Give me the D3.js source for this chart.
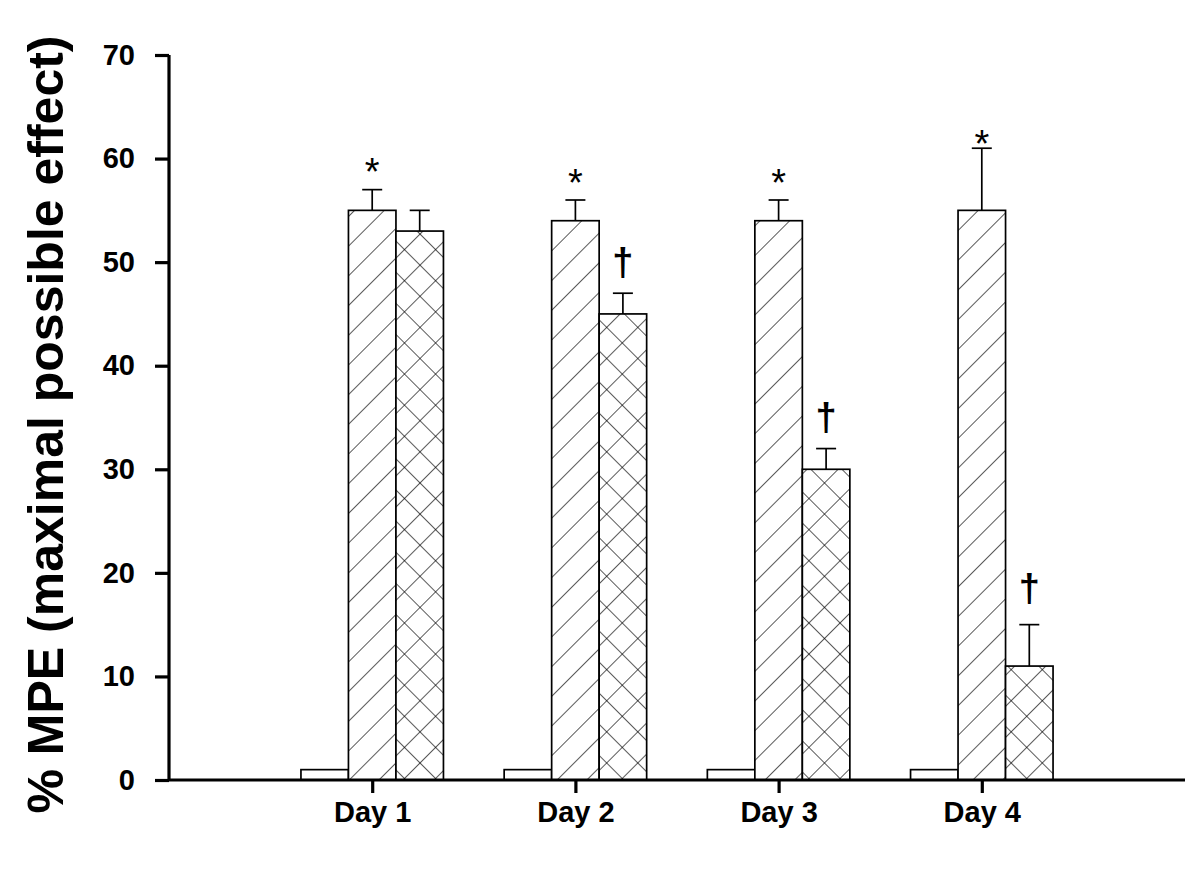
<!DOCTYPE html>
<html>
<head>
<meta charset="utf-8">
<script src="https://cdn.jsdelivr.net/npm/d3@7"></script>
<style>
  body { margin: 0; background: #fff; }
  text { font-family: "Liberation Sans", Arial, sans-serif; font-weight: bold; }
</style>
</head>
<body>
<div id="chart"></div>
<script>
var days = ["Day 1", "Day 2", "Day 3", "Day 4"];
var controlVals = [1, 1, 1, 1];
var hatchVals = [55, 54, 54, 55];
var hatchErr = [2, 2, 2, 6];
var crossVals = [53, 45, 30, 11];
var crossErr = [2, 2, 2, 4];
var starMarks = [59.6, 58.5, 58.5, 62.3];     // "*" above hatched bars
var daggerMarks = [null, 50.3, 35.3, 18.8];   // "†" above cross-hatched bars
var yTicks = [0, 10, 20, 30, 40, 50, 60, 70];

var W = 1200, H = 873;
var m = [55, 15, 93, 169]; // top right bottom left

var svg = d3.select("#chart").append("svg").attr("width", W).attr("height", H);

var defs = svg.append("defs");
var p1 = defs.append("pattern").attr("id", "hatch").attr("patternUnits", "userSpaceOnUse")
  .attr("width", 21).attr("height", 21).attr("patternTransform", "rotate(45)");
p1.append("rect").attr("width", 21).attr("height", 21).attr("fill", "#fff");
p1.append("line").attr("x1", 0).attr("y1", 0).attr("x2", 0).attr("y2", 21)
  .attr("stroke", "#000").attr("stroke-width", 1.3);
var p2 = defs.append("pattern").attr("id", "cross").attr("patternUnits", "userSpaceOnUse")
  .attr("width", 22).attr("height", 22).attr("patternTransform", "rotate(45)");
p2.append("rect").attr("width", 22).attr("height", 22).attr("fill", "#fff");
p2.append("line").attr("x1", 0).attr("y1", 0).attr("x2", 0).attr("y2", 22)
  .attr("stroke", "#000").attr("stroke-width", 1.3);
p2.append("line").attr("x1", 0).attr("y1", 0).attr("x2", 22).attr("y2", 0)
  .attr("stroke", "#000").attr("stroke-width", 1.3);

var x = d3.scaleLinear().domain([0, 5]).range([m[3], W - m[1]]);
var y = d3.scaleLinear().domain([0, 70]).range([H - m[2], m[0]]);
var barW = 47.5;

var data = [];
days.forEach(function(d, i) {
  data.push({day: i, s: 0, v: controlVals[i], e: 0, fill: "#fff"});
  data.push({day: i, s: 1, v: hatchVals[i], e: hatchErr[i], fill: "url(#hatch)"});
  data.push({day: i, s: 2, v: crossVals[i], e: crossErr[i], fill: "url(#cross)"});
});
function bx(d) { return x(d.day + 1) + (d.s - 1.5) * barW; }

var g = svg.append("g");
g.selectAll("rect.bar").data(data).enter().append("rect").attr("class", "bar")
  .attr("x", bx).attr("width", barW)
  .attr("y", function(d) { return y(d.v); })
  .attr("height", function(d) { return y(0) - y(d.v); })
  .attr("fill", function(d) { return d.fill; })
  .attr("stroke", "#000").attr("stroke-width", 1.7);

var errs = data.filter(function(d) { return d.e > 0; });
g.selectAll("line.err").data(errs).enter().append("line")
  .attr("x1", function(d) { return bx(d) + barW / 2; })
  .attr("x2", function(d) { return bx(d) + barW / 2; })
  .attr("y1", function(d) { return y(d.v); })
  .attr("y2", function(d) { return y(d.v + d.e); })
  .attr("stroke", "#000").attr("stroke-width", 1.7);
g.selectAll("line.cap").data(errs).enter().append("line")
  .attr("x1", function(d) { return bx(d) + barW / 2 - 10; })
  .attr("x2", function(d) { return bx(d) + barW / 2 + 10; })
  .attr("y1", function(d) { return y(d.v + d.e); })
  .attr("y2", function(d) { return y(d.v + d.e); })
  .attr("stroke", "#000").attr("stroke-width", 1.7);

var stars = starMarks.map(function(v, i) { return {day: i, v: v}; });
g.selectAll("text.star").data(stars).enter().append("text")
  .attr("x", function(d) { return x(d.day + 1); })
  .attr("y", function(d) { return y(d.v) + 22; })
  .attr("text-anchor", "middle").style("font-weight", "normal")
  .style("font-size", "38px").text("*");
var daggers = daggerMarks.map(function(v, i) { return {day: i, v: v}; })
  .filter(function(d) { return d.v !== null; });
g.selectAll("text.dag").data(daggers).enter().append("text")
  .attr("x", function(d) { return x(d.day + 1) + barW; })
  .attr("y", function(d) { return y(d.v) + 16; })
  .attr("text-anchor", "middle")
  .style("font-size", "38px").text("†");

// axes
var yAxis = d3.axisLeft(y).tickValues(yTicks).tickSize(14).tickPadding(20);
var ya = svg.append("g").attr("transform", "translate(" + m[3] + ",0)").call(yAxis);
ya.select(".domain").attr("stroke-width", 3.2).attr("d", "M0," + y(70) + "V" + y(0));
ya.selectAll(".tick line").attr("stroke-width", 3.2);
ya.selectAll(".tick text").style("font-size", "29px").attr("fill", "#000");

var xAxis = d3.axisBottom(x).tickValues([1, 2, 3, 4])
  .tickFormat(function(d) { return days[d - 1]; }).tickSize(13).tickPadding(8);
var xa = svg.append("g").attr("transform", "translate(0," + y(0) + ")").call(xAxis);
xa.select(".domain").attr("stroke-width", 3.2).attr("d", "M" + m[3] + ",0H" + (W - m[1]));
xa.selectAll(".tick line").attr("stroke-width", 3.2);
xa.selectAll(".tick text").style("font-size", "29px").attr("fill", "#000");

svg.append("text")
  .attr("transform", "translate(63," + ((y(0) + y(70)) / 2 + 7) + ") rotate(-90)")
  .attr("text-anchor", "middle").style("font-size", "50px")
  .text("% MPE (maximal possible effect)");
</script>
</body>
</html>
